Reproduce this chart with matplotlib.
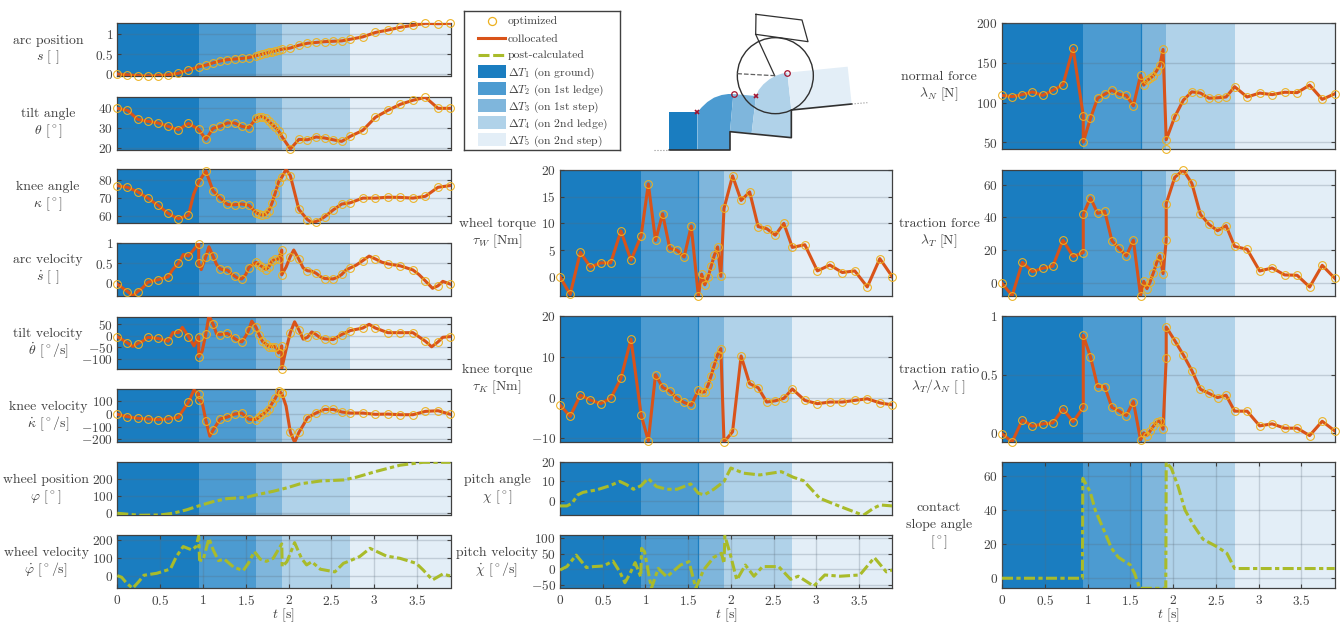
import numpy as np
import matplotlib
matplotlib.use("Agg")
import matplotlib.pyplot as plt
from matplotlib.patches import Polygon, Circle, Rectangle

plt.rcParams['font.family'] = ['cmr10', 'DejaVu Sans']
plt.rcParams['mathtext.fontset'] = 'cm'
plt.rcParams['axes.unicode_minus'] = False
plt.rcParams['axes.formatter.use_mathtext'] = True

# phase data
t_edges = [0, 0.95, 1.62, 1.92, 2.72, 3.89]
phase_colors = ['#1a7dc0', '#4c9bd1', '#7fb6dc', '#b0d2e9', '#e3eef7']
phase_names = ['on ground', 'on 1st ledge', 'on 1st step', 'on 2nd ledge', 'on 2nd step']

# node times, t_jump repeats the phase starts where the contact changes
t_nodes = [0, .119, .238, .356, .475, .594, .713, .831, .95,
           1.034, 1.118, 1.201, 1.285, 1.369, 1.453, 1.536, 1.62,
           1.658, 1.695, 1.733, 1.77, 1.808, 1.845, 1.883, 1.92,
           2.02, 2.12, 2.22, 2.32, 2.42, 2.52, 2.62, 2.72,
           2.866, 3.013, 3.159, 3.305, 3.451, 3.597, 3.744, 3.89]
t_jump = [0, .119, .238, .356, .475, .594, .713, .831, .95, .95,
          1.034, 1.118, 1.201, 1.285, 1.369, 1.453, 1.536, 1.62,
          1.658, 1.695, 1.733, 1.77, 1.808, 1.845, 1.883, 1.92, 1.92,
          2.02, 2.12, 2.22, 2.32, 2.42, 2.52, 2.62, 2.72,
          2.866, 3.013, 3.159, 3.305, 3.451, 3.597, 3.744, 3.89]

# left column, optimized nodes
s_vals = [0, -.02, -.04, -.05, -.04, -.02, .02, .1, .18,
          .22, .28, .325, .36, .375, .39, .41, .46,
          .48, .5, .52, .54, .56, .58, .6, .62,
          .65, .72, .77, .79, .81, .82, .83, .87,
          .93, 1.04, 1.1, 1.17, 1.22, 1.27, 1.26, 1.27]
theta_vals = [40, 39, 34.5, 33.5, 32.7, 31, 29.3, 32.5, 29.5,
              24.5, 30, 31, 32.7, 32.7, 31, 30.3, 35,
              35.8, 35.8, 35, 33.5, 32, 30.5, 28.7, 26,
              19.7, 24.5, 24.3, 25.7, 25.2, 24.3, 23.5, 26,
              29, 35.5, 39, 42, 44, 45.5, 40, 40]
kappa_vals = [76.9, 76, 73.5, 70, 66, 61.5, 58.5, 60.5, 79,
              85, 74, 70, 66.5, 66.3, 66.7, 66, 62,
              61, 60.5, 61, 63, 67.5, 73, 79, 81.5,
              82.5, 63.7, 58, 57, 59.6, 63.4, 66.7, 67.4,
              70, 70, 70.5, 70.4, 70, 71, 76, 77]
sdot_vals = [-.02, -.2, -.2, .03, .09, .16, .49, .67, .98, .49,
             .66, .67, .36, .33, .18, .11, .39, .52,
             .45, .41, .34, .41, .56, .59, .6, .82, .21,
             .66, .59, .31, .25, .12, .11, .22, .38,
             .56, .6, .48, .43, .33, .06, -.06, -.02]
thetadot_vals = [-3, -30, -33, -6, -11, -23, 14, -3, -3, -89,
                 9, 51, 6, 11, -11, -26, 27, 37,
                 4, -24, -34, -46, -46, -46, -74, -43, -141,
                 14, 26, -6, 6, -13, -16, 6, 23,
                 34, 34, 14, 14, 14, -23, -26, -3]
kappadot_vals = [-5, -23, -36, -41, -46, -41, -28, 90, 154, 110,
                 -54, -128, -41, -26, -3, 5, -44, -46,
                 -25, -5, 13, 38, 82, 120, 174, 159, 159,
                 -144, -146, -31, 5, 33, 33, 13, 5,
                 5, -5, -3, -8, -8, 18, 23, -5]

# collocated curve between the nodes
kappa_mid_t = [.89, 1.97, 2.27, 2.37]
kappa_mid = [72, 86, 56.5, 58]
sdot_mid_t = [.08, .18, .30, .65, .77, .98, 1.07, 1.16, 1.24, 1.33, 1.41, 1.5, 1.97, 2.06, 2.17, 2.27,
              2.37, 2.57, 2.67, 2.79, 2.94, 3.09, 3.52, 3.68, 3.8]
sdot_mid = [-.14, -.31, -.1, .35, .71, .34, .9, .46, .33, .24, .12, .22, .4, .82, .38, .3,
            .17, .15, .33, .45, .67, .52, .22, -.12, .05]
thetadot_mid_t = [.18, .30, .65, .76, .895, .99, 1.07, 1.16, 1.41, 1.5, 1.57, 1.97, 2.07, 2.17, 2.27, 2.37,
                  2.94, 3.67, 3.8]
thetadot_mid = [-46, -22, 15, 37, -43, -67, 88, 8, -20, 0, 64, -60, 61, -14, 17, -8, 50, -47, -6]
kappadot_mid_t = [.77, .895, .99, 1.08, 1.97, 2.07, 2.17]
kappadot_mid = [30, 185, 90, -175, 60, -223, -90]

# post-calculated, left column
phi_t = [0, .13, .26, .5, .65, .81, .95, 1.12, 1.28, 1.51, 1.62, 1.82, 1.98, 2.13, 2.37, 2.64, 2.79, 3.03, 3.3, 3.57, 3.89]
phi_vals = [0, -6, -12, -10, 0, 20, 43, 68, 85, 93, 107, 128, 148, 171, 188, 194, 210, 245, 280, 297, 297]
phidot_t = [0, .05, .11, .18, .25, .31, .46, .62, .69, .77, .87, .92, .95, .96, 1.0, 1.07, 1.12, 1.18, 1.25, 1.36,
            1.47, 1.53, 1.6, 1.67, 1.74, 1.82, 1.92, 1.925, 1.98, 2.07, 2.15, 2.21, 2.27, 2.37, 2.54, 2.64, 2.72,
            2.83, 2.95, 3.03, 3.14, 3.3, 3.49, 3.57, 3.68, 3.8, 3.89]
phidot_vals = [0, -9, -43, -71, -34, 2, 13, 37, 107, 163, 144, 163, 222, 88, 84, 209, 144, 84, 92, 47,
               28, 69, 135, 92, 80, 97, 178, 50, 78, 185, 97, 60, 78, 36, 21, 69, 84,
               107, 153, 135, 110, 97, 69, 32, -24, 9, -2]

# middle column
tauw_vals = [0, -3.3, 4.6, 1.8, 2.6, 2.6, 8.6, 3.1, 7.7,
             17.4, 6.8, 11.8, 5.3, 5, 3.7, 9.5, -3.6,
             .5, -1.5, -.1, 2, 4.1, 5.6, .1, 12.8,
             18.9, 14.3, 15.9, 9.4, 9, 7.8, 10, 5.5,
             6, 1.1, 2.2, .8, 1.1, -1.9, 3.4, 0]
tauk_vals = [-1.8, -4.6, .6, -.6, -1.5, -.2, 4.7, 14.3, -4.3,
             -10.6, 5.6, 2.5, 1.6, -.2, -1.2, -1.9, 1.8,
             1.3, 1.4, 3, 5.4, 8.1, 10.5, 12, -10.9,
             -8.4, 10.2, 3.4, 2.4, -1.1, -.8, -.2, 2.1,
             -.7, -1.5, -1.1, -1.1, -.7, -.3, -1.3, -1.8]
chi_t = [0, .08, .14, .21, .27, .43, .58, .70, .78, .86, .95, 1.03, 1.13, 1.25, 1.37, 1.53, 1.62, 1.69, 1.8, 1.92,
         2.0, 2.15, 2.34, 2.59, 2.73, 2.85, 3.04, 3.28, 3.55, 3.67, 3.75, 3.89]
chi_vals = [-2.8, -2.8, -1.4, 3, 4.3, 5.6, 7.7, 10, 8.3, 5.9, 7.8, 11.6, 7.3, 5.9, 5.9, 8.7, 3.8, 3, 5.9, 10,
            17, 14.3, 13.4, 15.1, 12.2, 10.4, 1.2, -3.1, -7.7, -4, -2.3, -2.8]
chidot_t = [0, .08, .19, .31, .39, .51, .62, .70, .76, .82, .88, .945, .955, .99, 1.07, 1.15, 1.25, 1.41, 1.51,
            1.59, 1.68, 1.8, 1.89, 1.92, 1.93, 1.99, 2.07, 2.17, 2.27, 2.37, 2.56, 2.7, 2.79, 2.97, 3.1, 3.28, 3.51,
            3.68, 3.82, 3.89]
chidot_vals = [-2, 9, 46, 6, 9, 11, 27, -8, -43, -13, 22, -24, 68, 57, -61, 3, -24, 14, 25,
               -61, -2, 39, 52, 19, 108, 52, -34, 14, -22, 9, 9, -32, -22, -54, -18, -22, -18,
               38, -8, -2]

# right column
lamn_vals = [109, 107.5, 110, 113.5, 109, 115.5, 122.5, 168.5, 83.5, 50,
             80, 105.5, 110.5, 115.5, 110.5, 109, 96, 134.5,
             122, 128, 130.5, 134, 140, 147, 167, 53, 41,
             82, 103, 113.5, 112, 105.5, 106, 107, 120,
             107, 112, 110, 113, 112.5, 122, 104, 111]
lamt_vals = [-.4, -8, 12.4, 6.7, 8.8, 10, 26, 16, 18.4, 41.8,
             52, 42.4, 43.7, 25.7, 21, 16.3, 26, -8,
             .8, -3.7, .6, 6, 12.2, 16.5, 5.5, 26, 48.4,
             64.5, 69, 60.8, 41.8, 35.7, 31.8, 34.9, 22.2,
             20.4, 7.1, 9, 4.7, 4.5, -2.7, 10.6, 2.7]
ratio_vals = [-.005, -.074, .114, .06, .08, .088, .207, .097, .22, .835,
              .653, .398, .398, .22, .19, .15, .27, -.057,
              .003, -.02, .02, .06, .094, .108, .034, .642, .906,
              .79, .668, .534, .375, .34, .304, .324, .188,
              .188, .0625, .08, .043, .043, -.02, .102, .02]
slope_t = [0, .94, .945, 1.03, 1.09, 1.19, 1.28, 1.36, 1.5, 1.55, 1.61, 1.915, 1.92, 1.98, 2.06, 2.14, 2.24, 2.35,
           2.53, 2.63, 2.72, 3.89]
slope_vals = [0, 0, 58.6, 50.8, 40, 28.3, 17.6, 12.3, 7.8, 2.9, -5.9, -5.9, 68, 64.5, 53.7, 40, 31, 22.9,
              18, 14.6, 5.7, 5.7]

# schematic outline, in its own pixel frame
sk_phases = [
    [(58, 322), (142, 322), (142, 435), (58, 435)],
    [(142, 322), (155, 307), (172, 291), (192, 278), (215, 270), (235, 267), (250, 267), (240, 380), (240, 435), (142, 435)],
    [(250, 267), (318, 273), (305, 384), (240, 380)],
    [(318, 273), (326, 255), (340, 238), (358, 223), (378, 212), (395, 206), (412, 203), (424, 315), (424, 398), (305, 384)],
    [(412, 203), (593, 185), (605, 297), (424, 315)],
]
sk_ground_x = [58, 240, 240, 424, 424, 605]
sk_ground_y = [435, 435, 380, 398, 315, 297]
sk_body_x = [318, 456, 474, 317, 318]
sk_body_y = [28, 45, 110, 88, 28]
sk_link_x = [317, 374]
sk_link_y = [88, 212]

INK = '#404040'
COLLOC = '#d95319'
OPT = '#edb120'
POST = '#a9bb2a'
DASH = (0, (3.6, 1.1, 1.4, 1.1))
LABEL_SIZE = 9.9
TICK_SIZE = 9.6

W, H = 1343, 623
fig = plt.figure(figsize=(W / 100, H / 100), dpi=100)


def px_axes(x0, y0, x1, y1):
    return fig.add_axes([x0 / W, 1 - y1 / H, (x1 - x0) / W, (y1 - y0) / H])


def panel(box, ylim, yticks, label, label_x, edge_line=False, xaxis=False):
    ax = px_axes(*box)
    for i in range(5):
        ax.axvspan(t_edges[i], t_edges[i + 1], color=phase_colors[i], lw=0, zorder=0)
    if edge_line:
        ax.axvline(1.62, color='#1a7dc0', lw=0.9, zorder=1)
    ax.set_xlim(0, 3.89)
    ax.set_ylim(*ylim)
    ax.set_yticks(yticks, [f'${v}$' for v in yticks])
    ax.grid(axis='y', color='#5a6a78', alpha=0.25, lw=1.0, zorder=1)
    ax.set_axisbelow(False)
    ax.tick_params(axis='y', direction='in', length=3, width=0.8, color=INK, labelcolor=INK,
                   labelsize=TICK_SIZE, pad=3, right=True)
    xticks = [0, 0.5, 1, 1.5, 2, 2.5, 3, 3.5]
    if xaxis:
        ax.set_xticks(xticks, [f'${v}$' for v in xticks])
        ax.grid(axis='x', color='#5a6a78', alpha=0.25, lw=1.0, zorder=1)
        ax.tick_params(axis='x', direction='in', length=3, width=0.8, color=INK, labelcolor=INK,
                       labelsize=TICK_SIZE, pad=4, top=True)
        ax.set_xlabel('$t$ [s]', color=INK, fontsize=LABEL_SIZE, labelpad=-1)
    else:
        ax.set_xticks([])
    for sp in ax.spines.values():
        sp.set_color(INK)
        sp.set_linewidth(0.9)
    # side label, one text per line with fixed baselines
    centre = (box[1] + box[3]) / 2
    lines = label.split('\n')
    for i, line in enumerate(lines):
        y = centre + 2.5 + 17 * (i - (len(lines) - 1) / 2)
        fig.text(label_x / W, 1 - y / H, line, ha='center', va='baseline', color=INK, fontsize=LABEL_SIZE)
    return ax


def collocated(ax, t, vals, mid_t=(), mid=(), skip=None):
    t = list(t)
    vals = list(vals)
    line_t = np.array(t)
    line_v = np.array(vals)
    if skip is not None:
        line_t = np.delete(line_t, skip)
        line_v = np.delete(line_v, skip)
    line_t = np.concatenate([line_t, mid_t])
    line_v = np.concatenate([line_v, mid])
    order = np.argsort(line_t, kind='stable')
    ax.plot(line_t[order], line_v[order], color=COLLOC, lw=2.2, zorder=3)
    ax.plot(t, vals, ls='none', marker='o', ms=5.6, mfc='none', mec=OPT, mew=0.75, clip_on=False, zorder=4)


def post(ax, t, vals):
    ax.plot(t, vals, color=POST, lw=2.2, ls=DASH, zorder=3)


# left column
LX = 48
XL = (117.3, 450.5)
ax = panel((XL[0], 23.3, XL[1], 76), (-.05, 1.27), [0, 0.5, 1], 'arc position\n$s$ [ ]', LX)
collocated(ax, t_nodes, s_vals)
ax = panel((XL[0], 96.7, XL[1], 150), (19.2, 45.8), [20, 30, 40], 'tilt angle\n$\\theta$ [$^\\circ$]', LX)
collocated(ax, t_nodes, theta_vals)
ax = panel((XL[0], 169.3, XL[1], 223.3), (56, 86), [60, 70, 80], 'knee angle\n$\\kappa$ [$^\\circ$]', LX)
collocated(ax, t_nodes, kappa_vals, kappa_mid_t, kappa_mid)
ax = panel((XL[0], 242.7, XL[1], 296), (-.31, 1.0), [0, 0.5, 1], 'arc velocity\n$\\dot{s}$ [ ]', LX)
collocated(ax, t_jump, sdot_vals, sdot_mid_t, sdot_mid)
ax = panel((XL[0], 316.7, XL[1], 369), (-143, 83), [-100, -50, 0, 50], 'tilt velocity\n$\\dot{\\theta}$ [$^\\circ$/s]', LX)
collocated(ax, t_jump, thetadot_vals, thetadot_mid_t, thetadot_mid)
ax = panel((XL[0], 389.3, XL[1], 442.3), (-223, 190), [-200, -100, 0, 100], 'knee velocity\n$\\dot{\\kappa}$ [$^\\circ$/s]', LX)
collocated(ax, t_jump, kappadot_vals, kappadot_mid_t, kappadot_mid)
ax = panel((XL[0], 462.3, XL[1], 515.3), (-12, 297), [0, 100, 200], 'wheel position\n$\\varphi$ [$^\\circ$]', 46)
post(ax, phi_t, phi_vals)
ax = panel((XL[0], 535.3, XL[1], 588.3), (-71, 226), [0, 100, 200], 'wheel velocity\n$\\dot{\\varphi}$ [$^\\circ$/s]', 46, xaxis=True)
post(ax, phidot_t, phidot_vals)

# middle column
MX = 497
XM = (560, 892.3)
ax = panel((XM[0], 170, XM[1], 296), (-3.6, 20), [0, 5, 10, 15, 20], 'wheel torque\n$\\tau_W$ [Nm]', MX, edge_line=True)
collocated(ax, t_nodes, tauw_vals)
ax = panel((XM[0], 316, XM[1], 442), (-10.9, 20), [-10, 0, 10, 20], 'knee torque\n$\\tau_K$ [Nm]', MX, edge_line=True)
collocated(ax, t_nodes, tauk_vals)
ax = panel((XM[0], 462.3, XM[1], 515.3), (-7.7, 20), [0, 10, 20], 'pitch angle\n$\\chi$ [$^\\circ$]', MX, edge_line=True)
post(ax, chi_t, chi_vals)
ax = panel((XM[0], 535.3, XM[1], 588.3), (-61, 110), [-50, 0, 50, 100], 'pitch velocity\n$\\dot{\\chi}$ [$^\\circ$/s]', MX, edge_line=True, xaxis=True)
post(ax, chidot_t, chidot_vals)

# right column
RX = 939
XR = (1002, 1334.7)
ax = panel((XR[0], 23.3, XR[1], 149.3), (41, 200), [50, 100, 150, 200], 'normal force\n$\\lambda_N$ [N]', RX, edge_line=True)
collocated(ax, t_jump, lamn_vals, skip=26)
ax = panel((XR[0], 170, XR[1], 296), (-8.2, 69), [0, 20, 40, 60], 'traction force\n$\\lambda_T$ [N]', RX, edge_line=True)
collocated(ax, t_jump, lamt_vals)
ax = panel((XR[0], 316, XR[1], 442), (-.075, 1), [0, 0.5, 1], 'traction ratio\n$\\lambda_T/\\lambda_N$ [ ]', RX, edge_line=True)
collocated(ax, t_jump, ratio_vals)
ax = panel((XR[0], 462.3, XR[1], 588.3), (-5.9, 68), [0, 20, 40, 60], 'contact\nslope angle\n[$^\\circ$]', RX, edge_line=True, xaxis=True)
post(ax, slope_t, slope_vals)

# legend box, laid out by hand in pixels
lg = px_axes(463.5, 11, 620, 150)
lg.set_xlim(463.5, 620)
lg.set_ylim(150, 11)
lg.set_xticks([])
lg.set_yticks([])
for sp in lg.spines.values():
    sp.set_color(INK)
    sp.set_linewidth(1.0)
lg.plot([491.5], [20.5], ls='none', marker='o', ms=5.8, mfc='none', mec=OPT, mew=0.9)
lg.plot([478, 505], [37.5, 37.5], color=COLLOC, lw=2.2)
lg.plot([478, 505], [54.5, 54.5], color=POST, lw=2.2, ls=(0, (3.6, 1.2, 3.6, 1.2)))
legend_text = ['optimized', 'collocated', 'post-calculated']
for i, name in enumerate(phase_names):
    legend_text.append(f'$\\Delta T_{i + 1}$ ({name})')
    lg.add_patch(Rectangle((478, 65 + 17 * i), 28, 13, fc=phase_colors[i], ec='none'))
for i, s in enumerate(legend_text):
    lg.text(508, 24.5 + 17 * i, s, color=INK, fontsize=8.4, ha='left', va='baseline')

# schematic of the wheel climbing the steps
sk = px_axes(650, 5, 880, 155)
sk.set_xlim(0, 690)
sk.set_ylim(450, 0)
sk.axis('off')
for i in range(5):
    sk.add_patch(Polygon(sk_phases[i], closed=True, fc=phase_colors[i], ec='none'))
sk.plot(sk_ground_x, sk_ground_y, color='#303030', lw=1.2)
sk.plot([12, 58], [435, 435], color='#909090', lw=0.8, ls=':')
sk.plot([605, 652], [297, 293], color='#909090', lw=0.8, ls=':')
sk.add_patch(Circle((376, 212), 114, fc='none', ec='#303030', lw=1.0))
sk.plot(sk_body_x, sk_body_y, color='#303030', lw=0.9)
sk.plot(sk_link_x, sk_link_y, color='#303030', lw=0.9)
sk.plot([262, 374], [206, 212], color='#606060', lw=0.9, ls='--')
sk.plot([142, 318], [321, 273], ls='none', marker='x', ms=3, mew=1.2, color='#a2142f')
sk.plot([252, 412], [267, 203], ls='none', marker='o', ms=4, mfc='none', mew=0.9, color='#a2142f')

fig.savefig('out.png', dpi=100)
